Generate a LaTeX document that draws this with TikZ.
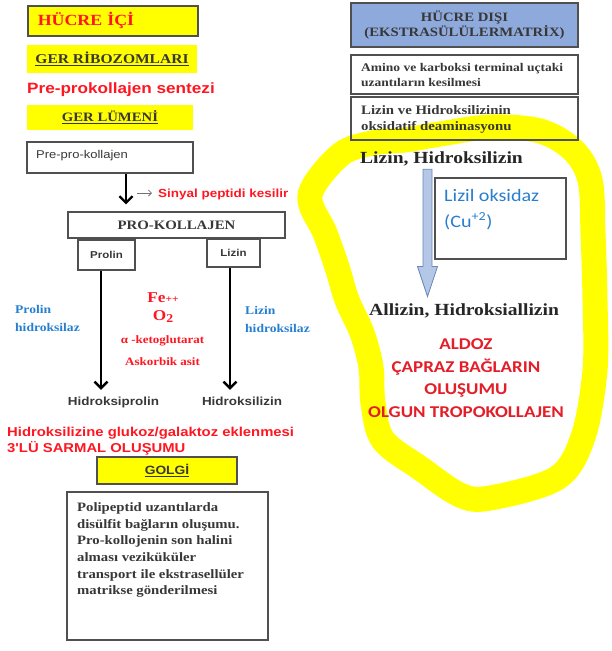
\documentclass[tikz,border=0pt]{standalone}
\usepackage{fontspec}
\setmainfont[FakeStretch=1.15]{Liberation Serif}
\newfontfamily\arialf[FakeStretch=1.15]{Liberation Sans}
\newfontfamily\calf[FakeStretch=1.15]{Carlito}
\usetikzlibrary{arrows.meta,calc}
\newcommand\fsz[2]{\fontsize{#1}{#2}\selectfont}

\definecolor{hlyellow}{RGB}{255,255,0}
\definecolor{txtred}{RGB}{255,22,32}
\definecolor{calred}{RGB}{228,30,40}
\definecolor{enzblue}{RGB}{38,128,210}
\definecolor{oxblue}{RGB}{40,125,205}
\definecolor{darktxt}{RGB}{55,55,55}
\definecolor{framegray}{RGB}{80,80,80}
\definecolor{headblue}{RGB}{142,169,219}
\definecolor{arrowblue}{RGB}{180,199,231}
\definecolor{arrowedge}{RGB}{105,135,185}

\tikzset{
  panel/.style={draw=framegray, line width=1.2pt, inner sep=0pt},
  label/.style={inner sep=0pt},
  bigarrow/.style={draw=black, line width=2.4pt, -{Straight Barb[length=6.5pt,width=13pt]}},
  smallarrow/.style={draw=black!55, line width=0.8pt, -{Straight Barb[length=3pt,width=6pt]}},
  highlight/.style={draw=hlyellow, line width=25pt, line join=round, line cap=round},
}

\begin{document}
\begin{tikzpicture}[x=1pt,y=-1pt]
\useasboundingbox (0,0) rectangle (611,651);

% highlighter loop around the extracellular cross-linking steps
\draw[highlight] plot[smooth cycle, tension=0.55] coordinates {
  (405,140) (440,134) (490,127) (540,131) (573,150) (590,180) (593,233)
  (595,300) (595,370) (583,437) (557,478) (490,498) (460,495) (420,468)
  (383,440) (373,403) (371,367) (362,333) (347,300) (337,267) (325,233)
  (310,195) (340,155) (372,143)};

% ---------------- intracellular column ----------------
\node[panel, fill=hlyellow, line width=1.6pt, anchor=north west,
      minimum width=170pt, minimum height=30pt, text width=150pt,
      inner xsep=10pt, align=left, font=\bfseries\fsz{15.5}{18}, text=txtred]
      (hucreici) at (27,5) {HÜCRE İÇİ};

\node[label, fill=hlyellow, minimum width=170pt, minimum height=28pt,
      font=\bfseries\fsz{13.5}{16}, text=darktxt]
      (gerribo) at (112,59) {\underline{GER RİBOZOMLARI}};

\node[label, anchor=base west, font=\arialf\bfseries\fsz{14.9}{18}, text=txtred]
      (sentez) at (27,93) {Pre-prokollajen sentezi};

\node[label, fill=hlyellow, minimum width=166pt, minimum height=25pt,
      font=\bfseries\fsz{12.8}{15}, text=darktxt]
      (gerlumen) at (110,117.5) {\underline{GER LÜMENİ}};

\node[panel, minimum width=166pt, minimum height=31pt] (prepro) at (110,157.5) {};
\node[label, anchor=base west, font=\arialf\fsz{11.3}{14}, text=darktxt]
      (preprotext) at (36,158) {Pre-pro-kollajen};

\node[panel, minimum width=217pt, minimum height=26pt,
      font=\bfseries\fsz{12.9}{15}, text=darktxt]
      (prokol) at (176.5,225) {PRO-KOLLAJEN};

\coordinate (colA) at (126,0);
\draw[bigarrow, shorten >=7pt] (prepro.south -| colA) -- (prokol.north -| colA);

\node[label, anchor=base west, font=\arialf\bfseries\fsz{11.7}{14}, text=txtred]
      (sinyal) at (158,197) {Sinyal peptidi kesilir};
\coordinate (sigstart) at (137,193);
\draw[smallarrow, shorten >=6pt] (sigstart) -- (sigstart -| sinyal.west);

\node[panel, minimum width=57pt, minimum height=30pt,
      font=\arialf\bfseries\fsz{10}{12}, text=darktxt]
      (prolin) at (106.5,255) {Prolin};
\node[panel, minimum width=53pt, minimum height=28pt,
      font=\arialf\bfseries\fsz{10}{12}, text=darktxt]
      (lizinbox) at (233.5,253) {Lizin};

\node[label, anchor=base, font=\arialf\bfseries\fsz{11.7}{14}, text=darktxt]
      (hpro) at (113.5,405) {Hidroksiprolin};
\node[label, anchor=base, font=\arialf\bfseries\fsz{11.7}{14}, text=darktxt]
      (hliz) at (242,405) {Hidroksilizin};

\coordinate (colP) at (101,0);
\coordinate (colL) at (230,0);
\draw[bigarrow, shorten >=6.5pt] (prolin.south -| colP) -- (hpro.north -| colP);
\draw[bigarrow, shorten >=6.5pt] (lizinbox.south -| colL) -- (hliz.north -| colL);

\node[label, anchor=north west, align=left, font=\bfseries\fsz{11.8}{18}, text=enzblue]
      (prohyd) at (15,305) {Prolin\\hidroksilaz};
\node[label, anchor=north west, align=left, font=\bfseries\fsz{11.8}{18}, text=enzblue]
      (lizhyd) at (245,306) {Lizin\\hidroksilaz};

\node[label, anchor=base, font=\bfseries\fsz{15}{18}, text=txtred]
      (fe) at (163,302) {Fe{\fsz{10}{10}++}};
\node[label, anchor=base, font=\bfseries\fsz{15}{18}, text=txtred]
      (oxy) at (163,320) {O{\fsz{12}{12}\raisebox{-2.5pt}{2}}};
\node[label, anchor=base, font=\bfseries\fsz{11.3}{14}, text=txtred]
      (keto) at (162.5,343) {α -ketoglutarat};
\node[label, anchor=base, font=\bfseries\fsz{11.3}{14}, text=txtred]
      (askorbik) at (162.5,365) {Askorbik asit};

\node[label, anchor=north west, align=left, font=\arialf\bfseries\fsz{12.9}{16}, text=txtred]
      (glukoz) at (7,426.8) {Hidroksilizine glukoz/galaktoz eklenmesi\\3'LÜ SARMAL OLUŞUMU};

\node[panel, fill=hlyellow, minimum width=140pt, minimum height=27pt,
      font=\arialf\bfseries\fsz{12}{14}, text=darktxt]
      (golgi) at (167,470.5) {\underline{GOLGİ}};

\node[panel, minimum width=201pt, minimum height=148pt] (golgibox) at (167.5,566) {};
\node[label, anchor=north west, align=left, font=\bfseries\fsz{12.8}{16.7}, text=darktxt]
      (golgitext) at (77,502.3) {Polipeptid uzantılarda\\disülfit bağların oluşumu.\\Pro-kollojenin son halini\\alması veziküküler\\transport ile ekstrasellüler\\matrikse gönderilmesi};

% ---------------- extracellular column ----------------
\node[panel, fill=headblue, minimum width=227pt, minimum height=44pt,
      align=center, font=\bfseries\fsz{12.8}{15}, text=darktxt]
      (hucredisi) at (464.5,25) {HÜCRE DIŞI\\(EKSTRASÜLÜLERMATRİX)};

\node[panel, minimum width=227pt, minimum height=39pt] (aminobox) at (464.5,74.5) {};
\node[label, anchor=north west, align=left, font=\bfseries\fsz{11.75}{15}, text=darktxt]
      (aminotext) at (361,63) {Amino ve karboksi terminal uçtaki\\uzantıların kesilmesi};

\node[panel, minimum width=227pt, minimum height=43pt] (deambox) at (464.5,118.5) {};
\node[label, anchor=north west, align=left, font=\bfseries\fsz{12.9}{16}, text=darktxt]
      (deamtext) at (361,105.3) {Lizin ve Hidroksilizinin\\oksidatif deaminasyonu};

\node[label, anchor=base west, font=\bfseries\fsz{17}{20}, text=black!85]
      (lizinhk) at (360,163) {Lizin, Hidroksilizin};

\node[panel, minimum width=131pt, minimum height=81pt] (oxbox) at (500.5,218.5) {};
\node[label, anchor=north west, align=left, font=\calf\fsz{17.5}{26}, text=oxblue]
      (oxtext) at (444,188.7) {Lizil oksidaz\\(Cu\textsuperscript{+2})};

\node[label, anchor=base west, font=\bfseries\fsz{17}{20}, text=black!85]
      (allz) at (369,315) {Allizin, Hidroksiallizin};

% block arrow from lysine to allysine
\coordinate (colB) at (427.5,0);
\coordinate (btop) at ($(lizinhk.south -| colB)+(0,3.5)$);
\coordinate (btip) at ($(allz.north -| colB)+(0,-6.5)$);
\draw[draw=arrowedge, fill=arrowblue, line width=0.8pt, line join=miter]
  ($(btop)+(-4.5,0)$) -- ($(btop)+(4.5,0)$) -- ($(btip)+(4.5,-30)$)
  -- ($(btip)+(10,-30)$) -- (btip) -- ($(btip)+(-10,-30)$)
  -- ($(btip)+(-4.5,-30)$) -- cycle;

\node[label, anchor=north, align=center, font=\calf\bfseries\fsz{16.5}{22.7}, text=calred]
      (aldoz) at (466,338.4) {ALDOZ\\ÇAPRAZ BAĞLARIN\\OLUŞUMU\\OLGUN TROPOKOLLAJEN};

\end{tikzpicture}
\end{document}
